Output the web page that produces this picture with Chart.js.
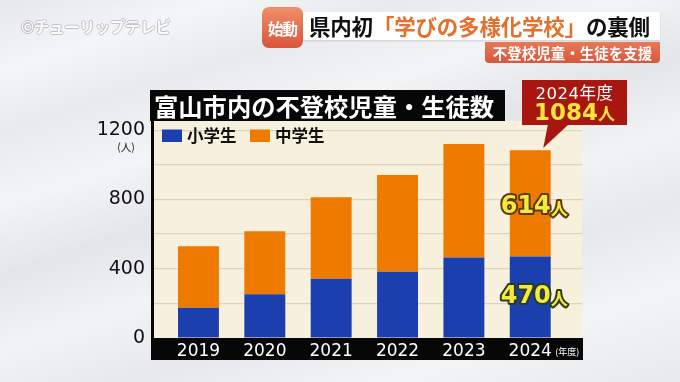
<!DOCTYPE html>
<html lang="ja">
<head>
<meta charset="utf-8">
<script src="https://cdn.jsdelivr.net/npm/chart.js@4/dist/chart.umd.min.js"></script>
<style>
  html,body{margin:0;padding:0;}
  body{width:680px;height:382px;overflow:hidden;position:relative;
    background:linear-gradient(162deg,#e6e7ea 0%,#f4f5f7 12%,#e9eaed 22%,#f3f4f6 34%,#e4e5e8 46%,#f2f3f5 58%,#e7e8eb 70%,#f3f4f6 84%,#e8e9ec 100%);
    font-family:"Noto Sans CJK JP","Noto Sans",sans-serif;}
  canvas{position:absolute;left:0;top:0;}
  .abs{position:absolute;white-space:nowrap;}
  #wm{left:21px;top:15px;font-size:15.5px;color:#fbfbfc;font-weight:700;
      text-shadow:1px 0 0 #c2c2c7,-1px 0 0 #c2c2c7,0 1px 0 #c2c2c7,0 -1px 0 #c2c2c7;letter-spacing:-0.3px;}
  #shido{left:262px;top:7px;width:41px;height:41px;border-radius:7px;
      background:linear-gradient(#ef8f6a,#d9553a);color:#fff;font-weight:700;font-size:15.5px;
      display:flex;align-items:center;justify-content:center;letter-spacing:-1px;}
  #head{left:303px;top:12px;width:357px;height:28px;background:#fff;
      box-shadow:0 1px 2px rgba(0,0,0,0.15);font-weight:700;font-size:21.5px;line-height:28px;
      padding-left:6px;box-sizing:border-box;color:#111;letter-spacing:-0.2px;}
  #head span{color:#e3702e;}
  #sub{left:485px;top:42px;width:175px;height:21px;background:linear-gradient(#e8795a,#d9563c);
      border-radius:0 0 4px 4px;color:#fff;font-weight:700;font-size:14.5px;line-height:21px;text-align:center;}
  #ttl{left:150px;top:90px;width:355px;height:31px;background:#070707;color:#fff;font-weight:700;
      font-size:24.3px;line-height:31px;padding-left:4px;box-sizing:border-box;letter-spacing:0px;}
  #call{left:522px;top:80px;width:105px;height:45px;background:#a8170f;color:#fff;text-align:center;}
  #callTip{left:541px;top:124px;width:28px;height:24px;background:#a8170f;
      clip-path:polygon(25% 0,100% 0,8% 100%);}
  #c1{position:absolute;left:0;right:0;top:3px;font-size:16.5px;line-height:18px;letter-spacing:0.5px;font-family:"DejaVu Sans","Noto Sans CJK JP",sans-serif;}
  #c1 .j{font-family:"Noto Sans CJK JP";}
  #c2{position:absolute;left:0;right:0;top:19px;color:#f7e53a;font-weight:700;font-size:23px;line-height:26px;font-family:"DejaVu Sans",sans-serif;}
  #c2 .j{font-family:"Noto Sans CJK JP";font-size:17px;}
</style>
</head>
<body>
<canvas id="c" width="680" height="382"></canvas>
<div class="abs" id="wm">©チューリップテレビ</div>
<div class="abs" id="shido">始動</div>
<div class="abs" id="head">県内初<span>「学びの多様化学校」</span>の裏側</div>
<div class="abs" id="sub">不登校児童・生徒を支援</div>
<div class="abs" id="ttl">富山市内の不登校児童・生徒数</div>
<div class="abs" id="callTip"></div>
<div class="abs" id="call"><div id="c1"></div><div id="c2"></div></div>
<script>
// ---- data ----
const years = ['2019', '2020', '2021', '2022', '2023', '2024'];
const yearNums = [2019, 2020, 2021, 2022, 2023, 2024];
const seriesNames = ['小学生', '中学生'];
const elementary = [175, 252, 342, 382, 465, 470];
const middle = [354, 365, 471, 559, 655, 614];
const yTickLabels = [0, 400, 800, 1200];
const unitLabel = '(人)';
const yearUnitLabel = '(年度)';
const personSuffix = '人';
const fiscalSuffix = '年度';

const colors = ['#1c3fae', '#ef7a00'];

// callout text built from data
const lastIdx = years.length - 1;
document.getElementById('c1').innerHTML = years[lastIdx] + '<span class="j">' + fiscalSuffix + '</span>';
document.getElementById('c2').innerHTML = (elementary[lastIdx] + middle[lastIdx]) + '<span class="j">' + personSuffix + '</span>';

const framePlugin = {
  id: 'frame',
  beforeDraw(chart) {
    const {ctx, chartArea: a} = chart;
    ctx.save();
    ctx.fillStyle = '#f7f0dc';
    ctx.fillRect(a.left, a.top - 1, a.right - a.left, a.bottom - a.top + 1);
    ctx.fillStyle = '#070707';
    ctx.fillRect(a.left - 2, a.bottom, a.right - a.left + 3, 22);
    ctx.fillRect(a.left - 3, 119, 3, a.bottom - 119 + 22);
    ctx.restore();
  },
  afterDatasetsDraw(chart) {
    const {ctx} = chart;
    ctx.save();
    [0, 1].forEach(di => {
      const el = chart.getDatasetMeta(di).data[lastIdx];
      const cy = (el.y + el.base) / 2 + (di === 1 ? 3 : 0);
      const val = String(di === 0 ? elementary[lastIdx] : middle[lastIdx]);
      const numFont = 'bold 24px "DejaVu Sans"';
      const jpFont = 'bold 17px "Noto Sans CJK JP"';
      ctx.font = numFont; const w1 = ctx.measureText(val).width;
      ctx.font = jpFont; const w2 = ctx.measureText(personSuffix).width;
      const x0 = el.x + 4 - (w1 + w2) / 2;
      ctx.lineJoin = 'round';
      ctx.textBaseline = 'middle';
      ctx.textAlign = 'left';
      ctx.strokeStyle = di === 0 ? '#2a3a1c' : '#5a3a08';
      ctx.lineWidth = 4;
      ctx.fillStyle = '#f7e83c';
      ctx.font = numFont;
      ctx.strokeText(val, x0, cy); ctx.fillText(val, x0, cy);
      ctx.font = jpFont;
      ctx.strokeText(personSuffix, x0 + w1, cy + 2); ctx.fillText(personSuffix, x0 + w1, cy + 2);
    });
    ctx.restore();
  },
  afterDraw(chart) {
    const {ctx} = chart;
    const ys = chart.scales.y, xs = chart.scales.x;
    ctx.save();
    let lx = 162;
    chart.data.datasets.forEach((ds, i) => {
      ctx.fillStyle = ds.backgroundColor;
      ctx.fillRect(lx, 129.5, 20, 12.5);
      ctx.fillStyle = '#111';
      ctx.font = 'bold 16.5px "Noto Sans CJK JP"';
      ctx.textBaseline = 'middle';
      ctx.textAlign = 'left';
      ctx.fillText(ds.label, lx + 25, 135.5);
      lx += 88;
    });
    ctx.font = '10.5px "Noto Sans CJK JP"';
    ctx.fillStyle = '#222';
    ctx.textAlign = 'center';
    ctx.fillText(unitLabel, 126, ys.getPixelForValue(1200) + 17);
    ctx.fillStyle = '#fff';
    ctx.font = '9px "Noto Sans CJK JP"';
    ctx.textAlign = 'left';
    ctx.fillText(yearUnitLabel, xs.getPixelForValue(yearNums[lastIdx]) + 25, 352);
    ctx.restore();
  }
};

new Chart(document.getElementById('c'), {
  type: 'bar',
  data: {
    datasets: [
      { label: seriesNames[0], data: yearNums.map((x, i) => ({x, y: elementary[i]})), backgroundColor: colors[0] },
      { label: seriesNames[1], data: yearNums.map((x, i) => ({x, y: middle[i]})), backgroundColor: colors[1] }
    ]
  },
  options: {
    responsive: false,
    devicePixelRatio: 1,
    animation: false,
    categoryPercentage: 0.617,
    barPercentage: 1,
    layout: { padding: { top: 122, right: 98, bottom: 22, left: 0 } },
    plugins: { legend: { display: false }, tooltip: { enabled: false } },
    scales: {
      x: {
        type: 'linear', stacked: true, offset: false, min: 2018.33, max: 2024.78,
        afterFit(s) { s.height = 22; },
        grid: { display: false, drawTicks: false, offset: false },
        border: { display: false },
        ticks: {
          stepSize: 1, includeBounds: false, autoSkip: false, maxRotation: 0, padding: 3,
          color: '#ffffff', font: { family: '"DejaVu Sans"', size: 17 },
          callback: v => { const i = yearNums.indexOf(v); return i >= 0 ? years[i] : ''; }
        }
      },
      y: {
        stacked: true, min: 0, max: 1247,
        afterFit(s) { s.width = 154; },
        grid: { drawTicks: false, color: c => c.tick.value === 0 ? 'rgba(0,0,0,0)' : '#dcd4bf', lineWidth: 1.2 },
        border: { display: false },
        ticks: {
          stepSize: 200, includeBounds: false, padding: 9,
          color: '#111', font: { family: '"DejaVu Sans"', size: 19 },
          callback: v => yTickLabels.includes(v) ? String(v) : ''
        }
      }
    }
  },
  plugins: [framePlugin]
});
</script>
</body>
</html>
